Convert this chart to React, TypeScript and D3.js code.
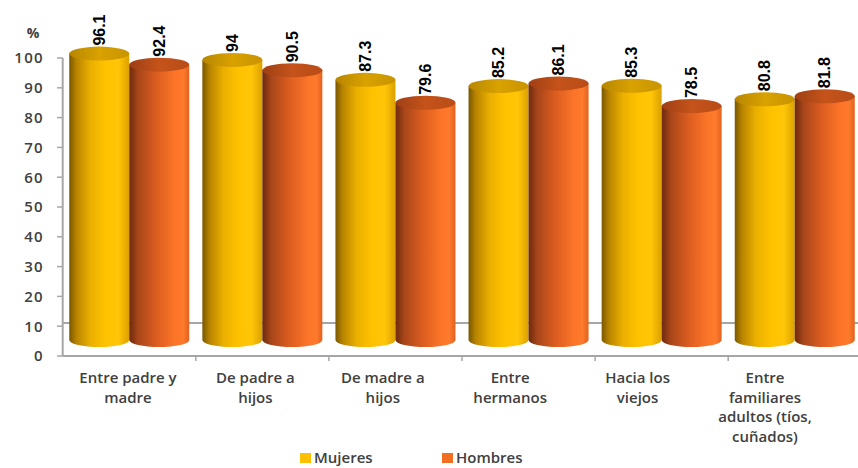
import React, { useEffect, useRef } from "react";
import * as d3 from "d3";

const categories: string[][] = [
  ["Entre padre y", "madre"],
  ["De padre a", "hijos"],
  ["De madre a", "hijos"],
  ["Entre", "hermanos"],
  ["Hacia los", "viejos"],
  ["Entre", "familiares", "adultos (tíos,", "cuñados)"],
];
const seriesNames = ["Mujeres", "Hombres"];
const mujeres = [96.1, 94, 87.3, 85.2, 85.3, 80.8];
const hombres = [92.4, 90.5, 79.6, 86.1, 78.5, 81.8];
const yTicks = [0, 10, 20, 30, 40, 50, 60, 70, 80, 90, 100];

const W = 858;
const H = 468;

export default function App() {
  const ref = useRef<SVGSVGElement | null>(null);

  useEffect(() => {
    const svg = d3.select(ref.current);
    svg.selectAll("*").remove();

    const keys = categories.map((_, i) => String(i));
    const x = d3.scaleBand<string>().domain(keys).range([62.7, 62.7 + 133.1 * 6]);
    const xInner = d3.scaleBand<string>().domain(seriesNames).range([0, 120]);
    const yAxis = d3.scaleLinear().domain([0, 100]).range([356, 58]);
    const yBar = d3.scaleLinear().domain([0, 100]).range([340, 42]);
    const xLabel = d3.scalePoint<string>().domain(keys).range([128, 765]);
    const color = d3.scaleOrdinal<string, string>().domain(seriesNames).range(["#FFC000", "#F26F21"]);

    const defs = svg.append("defs");
    const gradSpec: Record<string, [number, string][]> = {
      body0: [[0, "#7a5800"], [0.12, "#b88400"], [0.35, "#eaaf00"], [0.6, "#ffc200"], [0.82, "#ffc608"], [1, "#dca000"]],
      body1: [[0, "#6e2a0c"], [0.15, "#a8461a"], [0.45, "#dc5d20"], [0.75, "#fb7428"], [0.9, "#ff7a2c"], [1, "#e0621f"]],
      top0: [[0, "#b78600"], [0.5, "#d9a200"], [1, "#c89400"]],
      top1: [[0, "#9e3f14"], [0.5, "#c5531a"], [1, "#b84c18"]],
    };
    Object.entries(gradSpec).forEach(([id, stops]) => {
      const g = defs.append("linearGradient").attr("id", id).attr("x1", 0).attr("x2", 1).attr("y1", 0).attr("y2", 0);
      stops.forEach(([o, c]) => g.append("stop").attr("offset", o).attr("stop-color", c));
    });

    // floor / walls
    const floorDepth = 33;
    svg.append("line").attr("x1", 62.7).attr("x2", W).attr("y1", yAxis(0) - floorDepth).attr("y2", yAxis(0) - floorDepth)
      .attr("stroke", "#a6a6a6").attr("stroke-width", 2);
    svg.append("line").attr("x1", 62.7).attr("x2", W).attr("y1", yAxis(0)).attr("y2", yAxis(0))
      .attr("stroke", "#a6a6a6").attr("stroke-width", 2);
    svg.append("line").attr("x1", 62.7).attr("x2", 62.7).attr("y1", yAxis(100)).attr("y2", yAxis(0))
      .attr("stroke", "#a6a6a6").attr("stroke-width", 2);

    // y ticks
    const yt = svg.append("g");
    yt.selectAll("line").data(yTicks).join("line")
      .attr("x1", 57).attr("x2", 62.7).attr("y1", (d) => yAxis(d)).attr("y2", (d) => yAxis(d))
      .attr("stroke", "#a6a6a6").attr("stroke-width", 1.5);
    yt.selectAll("text").data(yTicks).join("text")
      .attr("x", 44).attr("y", (d) => yAxis(d)).attr("dy", "0.36em")
      .attr("text-anchor", "end").attr("font-family", "Open Sans").attr("font-size", 15)
      .attr("font-weight", 600).attr("letter-spacing", 1.3).attr("fill", "#404040")
      .text((d) => String(d));
    svg.append("text").attr("x", 33).attr("y", 38).attr("text-anchor", "middle")
      .attr("font-family", "Open Sans").attr("font-size", 14).attr("font-weight", 700).attr("fill", "#404040").text("%");

    // x ticks
    const xt = svg.append("g");
    const tickXs = keys.map((k) => (x(k) as number) + x.bandwidth());
    xt.selectAll("line").data(tickXs).join("line")
      .attr("x1", (d) => d).attr("x2", (d) => d).attr("y1", yAxis(0)).attr("y2", yAxis(0) + 5)
      .attr("stroke", "#a6a6a6").attr("stroke-width", 1.5);

    // category labels
    const cl = svg.append("g");
    categories.forEach((lines, i) => {
      const t = cl.append("text").attr("x", xLabel(String(i)) as number).attr("y", 383)
        .attr("text-anchor", "middle").attr("font-family", "Open Sans").attr("font-size", 15)
        .attr("font-weight", 600).attr("fill", "#404040");
      lines.forEach((ln, j) => {
        t.append("tspan").attr("x", xLabel(String(i)) as number).attr("dy", j === 0 ? 0 : 19.5).text(ln);
      });
    });

    // cylinders
    const rx = xInner.bandwidth() / 2;
    const ry = 7;
    const data = keys.flatMap((k, i) => [
      { k, s: seriesNames[0], v: mujeres[i], si: 0 },
      { k, s: seriesNames[1], v: hombres[i], si: 1 },
    ]);
    const bars = svg.append("g");
    data.forEach((d) => {
      const x0 = (x(d.k) as number) + (x.bandwidth() - 120) / 2 + (xInner(d.s) as number);
      const x1 = x0 + xInner.bandwidth();
      const cx = (x0 + x1) / 2;
      const yt0 = yBar(d.v);
      const yb = yBar(0);
      bars.append("path")
        .attr("d", `M${x0},${yt0} L${x0},${yb} A${rx},${ry} 0 0 0 ${x1},${yb} L${x1},${yt0} Z`)
        .attr("fill", `url(#body${d.si})`);
      bars.append("ellipse").attr("cx", cx).attr("cy", yt0).attr("rx", rx).attr("ry", ry)
        .attr("fill", `url(#top${d.si})`);
      const px = cx + 5.5;
      const py = yt0 - ry - 1;
      bars.append("text")
        .attr("x", px).attr("y", py)
        .attr("transform", `rotate(-90 ${px} ${py})`)
        .attr("font-family", "Liberation Sans").attr("font-weight", 700).attr("font-size", 16)
        .attr("fill", "#000").text(String(d.v));
    });

    // legend
    const lg = svg.append("g");
    const lx = [300, 442];
    seriesNames.forEach((s, i) => {
      lg.append("rect").attr("x", lx[i]).attr("y", 453).attr("width", 11).attr("height", 10).attr("fill", color(s));
      lg.append("text").attr("x", lx[i] + 14).attr("y", 463).attr("font-family", "Open Sans")
        .attr("font-size", 15).attr("font-weight", 600).attr("fill", "#404040").text(s);
    });
  }, []);

  return (
    <svg ref={ref} width={W} height={H}
      style={{ position: "absolute", left: 0, top: 0, background: "#fff" }} />
  );
}
